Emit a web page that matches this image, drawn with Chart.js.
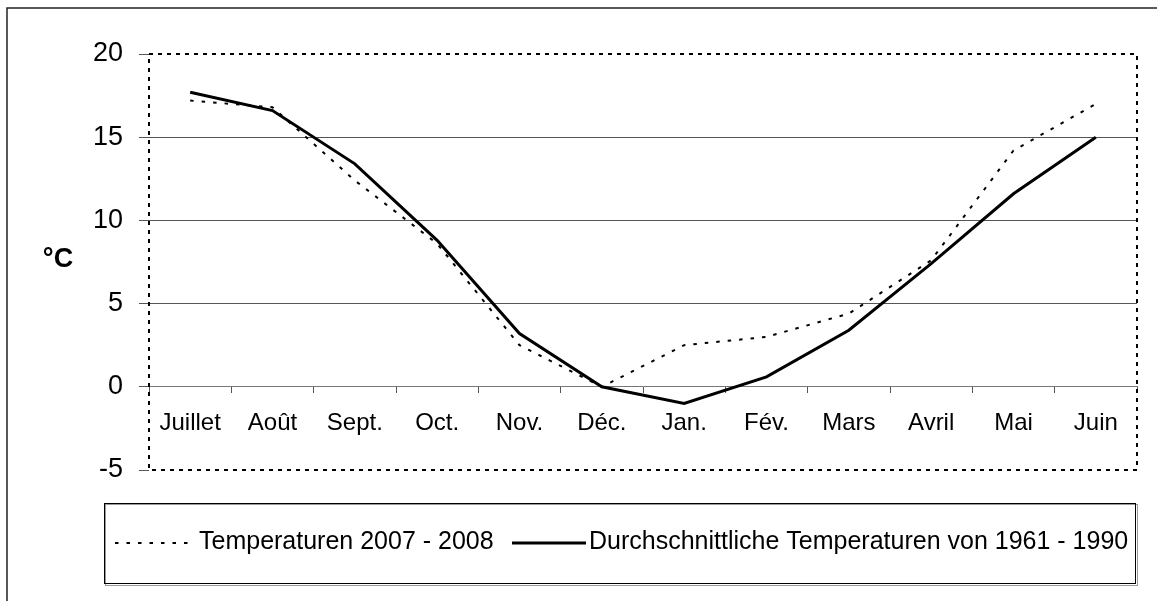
<!DOCTYPE html>
<html lang="fr">
<head>
<meta charset="utf-8">
<title>Temperaturen</title>
<script src="https://cdn.jsdelivr.net/npm/chart.js@4/dist/chart.umd.min.js"></script>
<style>
  html, body { margin: 0; padding: 0; background: #fff; }
  #wrap { width: 1157px; height: 601px; }
</style>
</head>
<body>
<div id="wrap"><canvas id="grafico" width="1157" height="601"></canvas></div>
<script>
// Données
const mois = ["Juillet", "Août", "Sept.", "Oct.", "Nov.", "Déc.", "Jan.", "Fév.", "Mars", "Avril", "Mai", "Juin"];
const temp2007 = [17.2, 16.8, 12.4, 8.6, 2.5, 0.0, 2.5, 3.0, 4.4, 7.6, 14.2, 17.0];
const tempMoyenne = [17.7, 16.6, 13.4, 8.8, 3.2, 0.0, -1.0, 0.6, 3.4, 7.4, 11.6, 15.0];
const nomsSeries = ["Temperaturen 2007 - 2008", "Durchschnittliche Temperaturen von 1961 - 1990"];
const ticksY = [-5, 0, 5, 10, 15, 20];

const police = '"Liberation Sans", Arial, sans-serif';

// Cadre, bordure pointillée, unité et légende dessinés à la main
const decor = {
  id: "decor",
  beforeDraw(chart) {
    const ctx = chart.ctx;
    ctx.save();
    ctx.fillStyle = "#fff";
    ctx.fillRect(0, 0, chart.width, chart.height);
    ctx.strokeStyle = "#222";
    ctx.lineWidth = 1.5;
    ctx.strokeRect(7, 8, chart.width + 20, chart.height + 20);
    ctx.restore();
  },
  afterDraw(chart) {
    const ctx = chart.ctx;
    const a = chart.chartArea;
    ctx.save();

    // bordure de la zone de tracé
    ctx.strokeStyle = "#000";
    ctx.lineWidth = 2;
    ctx.setLineDash([4, 5]);
    ctx.strokeRect(a.left, a.top, a.right - a.left, a.bottom - a.top);
    ctx.setLineDash([]);

    // unité de l'axe Y
    ctx.fillStyle = "#000";
    ctx.font = "bold 27px " + police;
    ctx.textAlign = "center";
    ctx.textBaseline = "middle";
    ctx.fillText("°C", 58, 260);

    // légende
    ctx.fillStyle = "#fff";
    ctx.fillRect(104, 503, 1032, 81);
    ctx.strokeStyle = "#999";
    ctx.lineWidth = 1;
    ctx.strokeRect(105.5, 504.5, 1032, 81);
    ctx.strokeStyle = "#000";
    ctx.strokeRect(104.5, 503.5, 1031, 80);

    const items = [
      { x1: 115, x2: 195, tx: 199 },
      { x1: 512, x2: 586, tx: 589 },
    ];
    ctx.font = "25px " + police;
    ctx.textAlign = "left";
    items.forEach((it, i) => {
      const ds = chart.data.datasets[i];
      ctx.strokeStyle = ds.borderColor;
      ctx.lineWidth = ds.borderWidth;
      ctx.setLineDash(ds.borderDash || []);
      ctx.beginPath();
      ctx.moveTo(it.x1, 543);
      ctx.lineTo(it.x2, 543);
      ctx.stroke();
      ctx.setLineDash([]);
      ctx.fillStyle = "#000";
      ctx.fillText(nomsSeries[i], it.tx, 542);
    });
    ctx.restore();
  },
};

const ctx = document.getElementById("grafico").getContext("2d");

new Chart(ctx, {
  type: "line",
  data: {
    labels: mois,
    datasets: [
      {
        label: nomsSeries[0],
        data: temp2007,
        borderColor: "#000",
        borderWidth: 2,
        borderDash: [3.5, 8],
        pointRadius: 0,
        tension: 0,
        fill: false,
      },
      {
        label: nomsSeries[1],
        data: tempMoyenne,
        borderColor: "#000",
        borderWidth: 3,
        pointRadius: 0,
        tension: 0,
        fill: false,
      },
    ],
  },
  options: {
    responsive: false,
    animation: false,
    layout: { padding: { left: 0, right: 20, top: 54, bottom: 131 } },
    plugins: {
      legend: { display: false },
      tooltip: { enabled: false },
    },
    scales: {
      x: {
        type: "category",
        position: { y: 0 },
        offset: true,
        grid: {
          offset: true,
          drawOnChartArea: false,
          drawTicks: true,
          tickLength: 6,
          color: "#555",
        },
        border: { display: true, color: "#777", width: 1 },
        ticks: {
          color: "#000",
          padding: 16,
          maxRotation: 0,
          autoSkip: false,
          font: { family: police, size: 24 },
        },
      },
      y: {
        min: -5,
        max: 20,
        afterFit(scale) {
          scale.width = 149;
        },
        afterBuildTicks(scale) {
          scale.ticks = ticksY.map((v) => ({ value: v }));
        },
        grid: {
          color: (c) => ([5, 10, 15].includes(c.tick && c.tick.value) ? "#555" : "rgba(0,0,0,0)"),
          tickColor: "#555",
          tickLength: 10,
          lineWidth: 1,
        },
        border: { display: false },
        ticks: {
          color: "#000",
          padding: 16,
          font: { family: police, size: 27 },
        },
      },
    },
  },
  plugins: [decor],
});
</script>
</body>
</html>
